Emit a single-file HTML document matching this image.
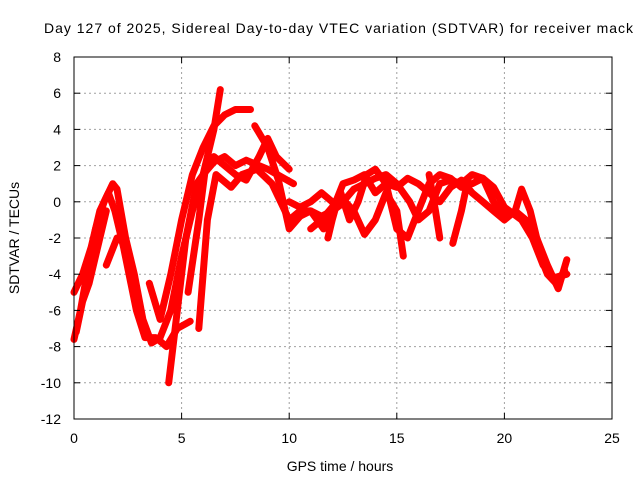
<!DOCTYPE html>
<html><head><meta charset="utf-8"><style>
html,body{margin:0;padding:0;background:#fff;}
svg{display:block;font-family:"Liberation Sans",sans-serif;}
</style></head><body>
<svg id="chart" width="640" height="480" viewBox="0 0 640 480">
<rect width="640" height="480" fill="#fff"/>
<text x="44" y="33" font-size="14" textLength="589" lengthAdjust="spacing" fill="#000">Day 127 of 2025, Sidereal Day-to-day VTEC variation (SDTVAR) for receiver mack</text>
<text x="340" y="471" font-size="14" text-anchor="middle" fill="#000">GPS time / hours</text>
<text transform="translate(19,238) rotate(-90)" font-size="14" text-anchor="middle" fill="#000">SDTVAR / TECUs</text>
<g id="grid"></g>
<g id="series"></g>
<rect x="74" y="57" width="538" height="362" fill="none" stroke="#000" stroke-width="1"/>
<g id="ticks"></g>
</svg>
<script>
const xTicks=[0,5,10,15,20,25];
const yTicks=[-12,-10,-8,-6,-4,-2,0,2,4,6,8];
const s1=[[0,-7.6],[0.3,-6],[0.6,-4],[1,-1.5],[1.4,0],[1.8,1],[2,0.7],[2.4,-2],[2.8,-4],[3.2,-6.5],[3.6,-7.8],[4,-7.5],[4.5,-6],[5,-3],[5.5,-0.5],[6,1.5],[6.5,4],[6.8,6.2]];
const s2=[[0,-5],[0.4,-4],[0.8,-2.5],[1.2,-0.5],[1.6,0.5],[1.9,-0.5],[2.3,-2.5],[2.9,-6],[3.3,-7.5],[3.8,-7.5],[4.3,-8],[4.8,-7],[5.4,-6.6]];
const s3=[[1.5,-3.5],[2,-2],[2.4,-2.3]];
const s4=[[3.5,-4.5],[4,-6.5],[4.5,-4],[5,-1],[5.5,1.5],[6,3],[6.5,4.2],[7,4.8],[7.5,5.1],[8.2,5.1]];
const s5=[[4.4,-10],[4.8,-6],[5.2,-2],[5.7,1],[6,1.5],[6.5,2.2],[7,2.5],[7.5,2],[8,2.3],[8.4,2.1],[9,1.8],[10.2,1]];
const s6=[[5.3,-5],[5.8,-1],[6.1,1.8],[6.5,2.5],[7,2],[7.5,1.5],[8,1.2],[8.6,2.5],[9,3.5],[9.4,2.5],[10,1.8]];
const s7=[[5.8,-7],[6.2,-1],[6.6,1.5],[7.3,0.8],[7.8,1.5],[8.5,1.8],[9.2,1],[9.6,0],[10,-1],[10.5,-0.5],[11,-0.5],[11.6,-1.5],[12,-0.5],[12.6,0],[13,-0.5],[13.5,-1.8],[14,-1],[14.5,0.5],[15,-0.5],[15.3,-3]];
const s8=[[8.4,4.2],[9,3],[9.5,1.2],[10,-1.5],[10.5,-0.8],[11,-0.5],[11.5,-0.8],[12,-0.5],[12.5,1],[13,1.2],[13.5,1.5],[14,0.5],[14.5,1],[15,0.8],[15.5,1.3],[16,1],[16.5,0.5],[17,0],[17.5,0.8],[18,1.2],[18.5,0.5],[19,0],[19.5,-0.5],[20,-1],[20.5,-0.5],[20.8,0.7],[21.2,-0.5],[21.5,-2],[22,-3.5],[22.5,-4.8],[22.9,-3.2]];
const s9=[[10,0],[10.5,-0.3],[11,0],[11.5,0.5],[12,0],[12.5,0],[13,0.7],[13.5,1],[14,1.3],[14.5,1.5],[15,1],[15.6,0],[16,-1],[16.5,-0.5],[17,1],[17.5,1.2],[18,1],[18.5,1.5],[19,1.3],[19.5,0],[20,-0.8],[20.5,-0.5],[21,-1],[21.5,-2.5],[22,-4],[22.4,-4.5],[22.8,-3.8]];
const s10=[[11,-1.5],[11.5,-1],[12,-0.3],[12.4,0.5],[12.8,-1],[13.2,0],[13.6,1.5],[14,1.8],[14.5,1],[15,-1.5],[15.5,-2],[16,-0.5],[16.5,1],[17,1.5],[17.5,1.3],[18,0.8],[18.5,1],[19,1.3],[19.5,0.8],[20,-0.3],[20.8,-1],[21.3,-2],[21.8,-3.5],[22.3,-4.2],[22.9,-4]];
const s11=[[16.5,1.5],[16.8,-0.5],[17,-2]];
const s12=[[18.3,1.2],[18,-0.5],[17.6,-2.3]];
const s13=[[12.3,0.3],[12,-1],[11.8,-2]];
const s14=[[0.1,-7.2],[0.4,-5.5],[0.7,-4.5],[1.1,-2.5],[1.5,-0.5]];
const allSeries=[s1,s2,s3,s4,s5,s6,s7,s8,s9,s10,s11,s12,s13,s14];

const NS="http://www.w3.org/2000/svg";
const X0=74,X1=612,Y0=419,Y1=57,XMIN=0,XMAX=25,YMIN=-12,YMAX=8;
function xs(v){return X0+(v-XMIN)/(XMAX-XMIN)*(X1-X0);}
function ys(v){return Y0-(v-YMIN)/(YMAX-YMIN)*(Y0-Y1);}
const grid=document.getElementById('grid'),ticks=document.getElementById('ticks'),sg=document.getElementById('series');
function mk(tag,attrs,parent){const e=document.createElementNS(NS,tag);for(const k in attrs)e.setAttribute(k,attrs[k]);parent.appendChild(e);return e;}
xTicks.forEach(t=>{
  const x=xs(t);
  if(t>XMIN&&t<XMAX){const g=mk('line',{x1:x,x2:x,y1:Y0,y2:Y1,stroke:'#a0a0a0','stroke-dasharray':'2,3'},grid);
  
  }
  const a=mk('line',{x1:x,x2:x,y1:Y0,y2:Y0-6,stroke:'#000'},ticks);
  
  
  const b=mk('line',{x1:x,x2:x,y1:Y1,y2:Y1+6,stroke:'#000'},ticks);
  
  
  const l=mk('text',{x:x,y:Y0+24,'font-size':14,'text-anchor':'middle',fill:'#000'},ticks);
  l.textContent=t;
  
  
});
yTicks.forEach(t=>{
  const y=ys(t);
  if(t>YMIN&&t<YMAX){const g=mk('line',{x1:X0,x2:X1,y1:y,y2:y,stroke:'#a0a0a0','stroke-dasharray':'2,3'},grid);
  
  }
  const a=mk('line',{x1:X0,x2:X0+6,y1:y,y2:y,stroke:'#000'},ticks);
  
  
  const b=mk('line',{x1:X1,x2:X1-6,y1:y,y2:y,stroke:'#000'},ticks);
  
  
  const l=mk('text',{x:X0-13,y:y+5,'font-size':14,'text-anchor':'end',fill:'#000'},ticks);
  l.textContent=t;
  
  
});
allSeries.forEach((s,i)=>{
  const pts=s.map(p=>xs(p[0]).toFixed(1)+','+ys(p[1]).toFixed(1)).join(' ');
  const pl=mk('polyline',{points:pts,fill:'none',stroke:'#ff0000','stroke-width':7,'stroke-linejoin':'round','stroke-linecap':'round'},sg);
  
  
});
</script>
</body></html>
